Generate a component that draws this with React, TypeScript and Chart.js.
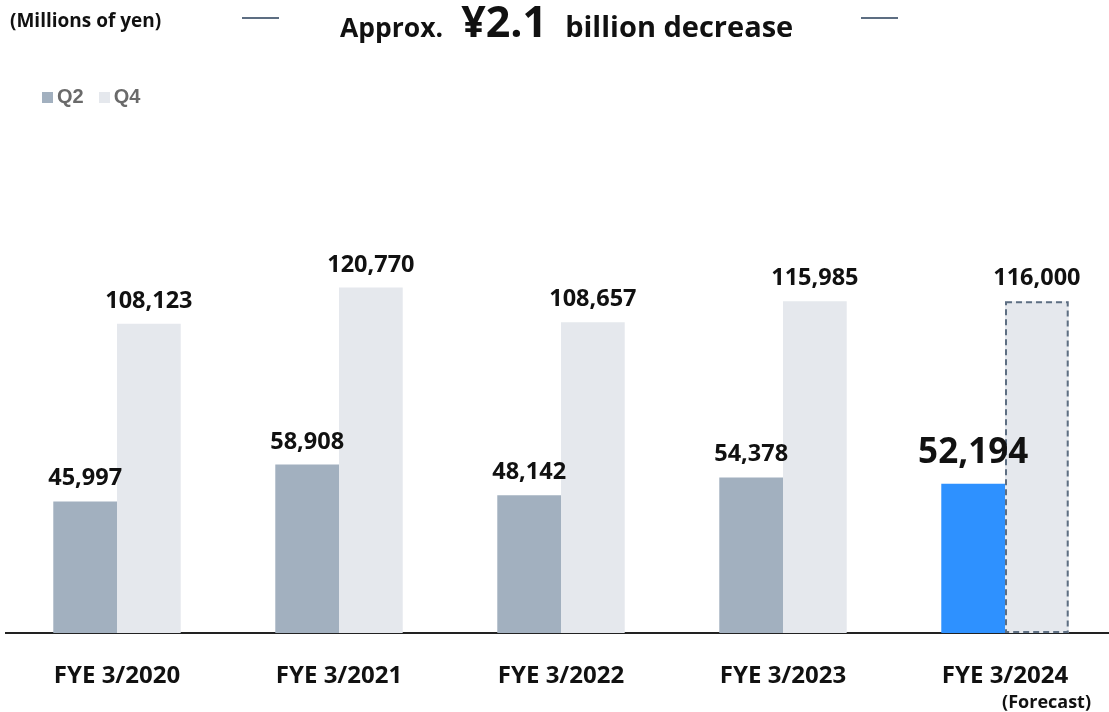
import React, { useEffect, useRef } from "react";
import { Chart, registerables } from "chart.js";

Chart.register(...registerables);

const categories = ["FYE 3/2020", "FYE 3/2021", "FYE 3/2022", "FYE 3/2023", "FYE 3/2024"];
const q2Values = [45997, 58908, 48142, 54378, 52194];
const q4Values = [108123, 120770, 108657, 115985, 116000];
const seriesNames = ["Q2", "Q4"];
const forecastIndex = 4;
const forecastNote = "(Forecast)";

const Q2_COLOR = "#a2b0bf";
const Q4_COLOR = "#e5e8ed";
const HIGHLIGHT = "#2e91ff";
const FONT = "'Open Sans', 'Noto Sans', sans-serif";

const fmt = (v: number) => v.toLocaleString("en-US");

const labelsPlugin = {
  id: "customLabels",
  afterDatasetsDraw(chart: any) {
    const ctx = chart.ctx;
    ctx.save();
    const m4 = chart.getDatasetMeta(1);
    const fb = m4.data[forecastIndex];
    if (fb) {
      const l = fb.x - fb.width / 2;
      const r = fb.x + fb.width / 2;
      ctx.setLineDash([6, 4]);
      ctx.strokeStyle = "#5d6e82";
      ctx.lineWidth = 2;
      ctx.strokeRect(l + 1, fb.y + 1, r - l - 2, fb.base - fb.y - 2);
      ctx.setLineDash([]);
    }
    ctx.fillStyle = "#111";
    ctx.textAlign = "center";
    ctx.textBaseline = "alphabetic";
    chart.data.datasets.forEach((ds: any, di: number) => {
      const meta = chart.getDatasetMeta(di);
      meta.data.forEach((el: any, i: number) => {
        const v = ds.data[i];
        if (di === 0 && i === forecastIndex) {
          ctx.font = `bold 35px ${FONT}`;
          ctx.fillText(fmt(v), el.x, el.y - 21);
        } else {
          ctx.font = `bold 23.5px ${FONT}`;
          ctx.fillText(fmt(v), el.x, el.y - 16);
        }
      });
    });
    const xs = chart.scales.x;
    categories.forEach((c, i) => {
      const x = xs.getPixelForValue(i);
      ctx.font = `bold 24px ${FONT}`;
      ctx.textAlign = "center";
      ctx.fillText(c, x, 683);
      if (i === forecastIndex) {
        ctx.font = `bold 18px ${FONT}`;
        ctx.textAlign = "right";
        ctx.fillText(forecastNote, x + 86, 708);
      }
    });
    ctx.restore();
  },
};

export default function App() {
  const ref = useRef<HTMLCanvasElement>(null);
  useEffect(() => {
    if (!ref.current) return;
    const chart = new Chart(ref.current, {
      type: "bar",
      data: {
        labels: categories,
        datasets: [
          {
            label: seriesNames[0],
            data: q2Values,
            backgroundColor: q2Values.map((_, i) => (i === forecastIndex ? HIGHLIGHT : Q2_COLOR)),
            borderWidth: 0,
            barPercentage: 1,
            categoryPercentage: 0.574,
          },
          {
            label: seriesNames[1],
            data: q4Values,
            backgroundColor: Q4_COLOR,
            borderWidth: 0,
            barPercentage: 1,
            categoryPercentage: 0.574,
          },
        ],
      },
      options: {
        responsive: false,
        animation: false,
        layout: { padding: { left: 6, right: 4, top: 61, bottom: 71 } },
        plugins: { legend: { display: false }, tooltip: { enabled: false } },
        scales: {
          x: {
            display: true,
            grid: { display: false },
            ticks: { display: false },
            border: { display: true, color: "#222", width: 2 },
          },
          y: { display: false, min: 0, max: 200000 },
        },
      },
      plugins: [labelsPlugin],
    });
    return () => chart.destroy();
  }, []);

  return (
    <div style={{ position: "fixed", left: 0, top: 0, width: 1109, height: 712, overflow: "hidden", background: "#fff", fontFamily: FONT }}>
      <canvas ref={ref} width={1120} height={712} style={{ position: "absolute", left: 0, top: 0, width: 1120, height: 712 }} />
      <div style={{ position: "absolute", left: 10, top: 7, fontSize: 19, lineHeight: "26px", fontWeight: 700, color: "#111", whiteSpace: "nowrap" }}>
        (Millions of yen)
      </div>
      <div style={{ position: "absolute", left: 242, top: 17, width: 37, height: 2, background: "#5d6e82" }} />
      <div style={{ position: "absolute", left: 861, top: 17, width: 37, height: 2, background: "#5d6e82" }} />
      <div style={{ position: "absolute", left: 340, top: -4, height: 50, display: "flex", alignItems: "baseline", whiteSpace: "nowrap", color: "#111", fontWeight: 700, lineHeight: "50px" }}>
        <span style={{ fontSize: 26.5 }}>Approx.</span>
        <span style={{ fontSize: 43, marginLeft: 18 }}>¥2.1</span>
        <span style={{ fontSize: 29, marginLeft: 18 }}>billion decrease</span>
      </div>
      <div style={{ position: "absolute", left: 42, top: 84, display: "flex", alignItems: "center", fontSize: 20, lineHeight: "24px", fontWeight: 700, color: "#6a6a6a", whiteSpace: "nowrap", fontFamily: "'Liberation Sans', Arial, sans-serif" }}>
        <span style={{ width: 11, height: 11, background: Q2_COLOR, display: "inline-block", marginRight: 4, marginTop: 2 }} />
        <span>{seriesNames[0]}</span>
        <span style={{ width: 11, height: 11, background: Q4_COLOR, display: "inline-block", marginLeft: 15, marginRight: 4, marginTop: 2 }} />
        <span>{seriesNames[1]}</span>
      </div>
    </div>
  );
}
